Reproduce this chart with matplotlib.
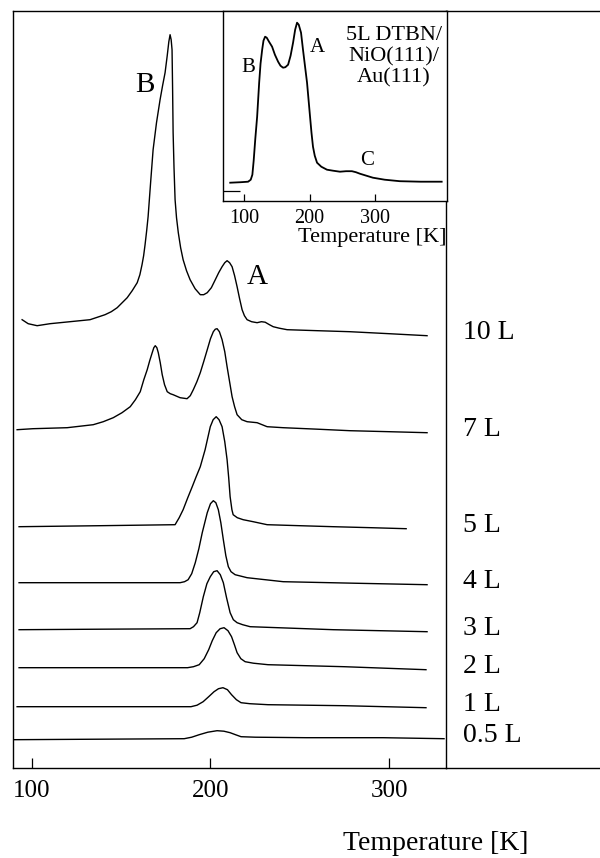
import matplotlib
matplotlib.use("Agg")
import matplotlib.pyplot as plt
import matplotlib.transforms as mtransforms

plt.rcParams['font.family'] = ['Liberation Serif', 'DejaVu Serif']

# ---- TPD traces, main panel (temperature in K, signal in arbitrary units incl. offset) ----
T_10L = [94.6, 98.0, 103.0, 110.2, 121.4, 132.6, 141.0, 144.5, 147.8, 150.6, 153.4, 156.2, 159.0,
         160.5, 161.7, 162.6, 163.4, 164.3, 165.1, 166.5, 167.9, 169.8, 171.8, 173.2, 174.6, 175.8,
         176.7, 177.4, 178.0, 178.5, 178.8, 179.1, 179.6, 180.2, 181.0, 182.0, 183.3, 184.7, 186.6,
         188.6, 191.4, 194.3, 196.2, 198.2, 200.5, 202.7, 204.6, 206.5, 208.0, 209.3, 210.7, 212.1,
         213.5, 214.9, 216.3, 217.7, 219.0, 220.5, 223.0, 226.1, 228.5, 230.6, 233.0, 235.1, 238.5,
         242.9, 260.0, 278.0, 300.0, 321.2]
y_10L = [448, 444, 442, 444, 446, 448, 453, 456, 460, 465, 470, 477, 485,
         493, 503, 512, 523, 537, 551, 585, 618, 645, 668, 682, 695, 712,
         726, 733, 728, 718, 680, 635, 600, 568, 550, 535, 520, 508, 497,
         488, 479, 473, 473, 475, 480, 488, 495, 501, 505, 507, 505, 501,
         492, 481, 469, 458, 452, 448, 446, 445, 446, 445.5, 443, 441, 439.5,
         438, 437, 436, 434, 432]

T_7L = [91.8, 100.7, 119.8, 134.4, 140.0, 145.6, 150.5, 155.1, 158.0, 160.7, 162.7, 164.6, 166.0,
        167.4, 168.3, 169.1, 170.0, 170.8, 171.9, 173.0, 174.3, 175.8, 177.5, 179.1, 183.0, 186.9,
        188.7, 190.4, 192.4, 194.3, 196.2, 198.2, 200.0, 201.6, 202.7, 203.7, 205.0, 206.5, 208.0,
        209.3, 210.7, 212.1, 213.5, 214.9, 217.5, 220.5, 226.1, 231.7, 240.7, 260.0, 278.0, 300.0,
        321.2]
y_7L = [338, 339, 340, 343, 346, 350, 355, 361, 368, 376, 388, 398, 407,
        415, 420, 422, 420, 415, 405, 393, 383, 376, 374, 373, 370, 369,
        372, 378, 386, 395, 406, 418, 429, 436, 438.5, 439, 436, 428, 416,
        401, 386, 371, 361, 353, 348, 346, 345, 341, 340, 338.5, 337, 336,
        335]

T_5L = [92.9, 138.3, 180.2, 182.5, 184.7, 187.3, 189.8, 192.0, 194.3, 197.0, 199.9, 201.5, 203.2,
        204.8, 206.5, 208.0, 209.3, 210.2, 211.0, 212.0, 212.7, 215.0, 218.3, 223.9, 231.7, 250.0,
        268.7, 290.0, 309.5]
y_5L = [241, 242, 243, 250, 258, 270, 281, 291, 301, 318, 341, 348, 351,
        348, 341, 326, 308, 290, 271, 258, 253, 250, 248, 246, 243, 242,
        241, 240, 239]

T_4L = [92.9, 138.3, 183.0, 185.5, 187.5, 189.5, 191.5, 193.5, 195.4, 198.2, 200.0, 201.6, 203.0,
        204.4, 205.8, 207.2, 208.6, 210.0, 211.5, 213.8, 220.5, 240.7, 280.0, 321.2]
y_4L = [185, 185, 185, 186, 188, 194, 205, 219, 235, 255, 264, 267, 265,
        258, 245, 228, 212, 201, 196, 193, 190, 186, 184.5, 183]

T_3L = [92.9, 138.3, 188.6, 190.5, 192.5, 194.0, 196.0, 198.0, 199.9, 201.8, 203.7, 205.5, 207.2,
        209.0, 211.0, 212.8, 214.9, 218.0, 222.2, 268.7, 321.2]
y_3L = [138, 138.5, 139, 141, 145, 155, 171, 184, 191, 196, 197, 193, 185,
        170, 155, 148, 145, 143, 141, 138, 136]

T_2L = [92.9, 187.2, 190.5, 193.7, 196.5, 199.0, 201.0, 203.2, 205.4, 207.6, 209.8, 211.8, 213.4,
        214.9, 217.0, 219.4, 224.0, 232.2, 274.8, 320.6]
y_2L = [100, 100, 101, 103, 109, 118, 127, 135, 139, 140, 137, 131, 123,
        115, 109, 106, 104.5, 103, 101, 98]

T_1L = [91.8, 189.1, 192.5, 195.9, 199.0, 202.0, 204.5, 207.0, 209.5, 211.8, 214.5, 217.1, 222.0,
        232.2, 274.8, 320.6]
y_1L = [61, 61, 62.5, 66, 71, 76, 79, 80, 78, 73, 68, 65, 64,
        63, 62, 60]

T_05L = [89.5, 185.3, 189.5, 193.7, 198.5, 203.7, 207.5, 211.0, 214.0, 217.1, 225.0, 253.5, 296.6,
         330.7]
y_05L = [28, 29, 30.5, 33, 35.5, 37, 36.5, 35, 33, 31, 30.5, 30, 30,
         29]

traces = [(T_10L, y_10L), (T_7L, y_7L), (T_5L, y_5L), (T_4L, y_4L),
          (T_3L, y_3L), (T_2L, y_2L), (T_1L, y_1L), (T_05L, y_05L)]
exposures = ['10 L', '7 L', '5 L', '4 L', '3 L', '2 L', '1 L', '0.5 L']
main_ticks = [100, 200, 300]

# ---- inset: 5L DTBN/NiO(111)/Au(111) ----
T_inset = [78.6, 95.0, 106.0, 110.0, 112.5, 114.5, 117.0, 119.8, 122.9, 125.0, 127.5, 129.5, 132.0,
           134.5, 138.0, 142.7, 147.0, 151.9, 155.5, 159.5, 163.0, 167.2, 171.0, 174.8, 178.0, 180.9,
           183.5, 187.0, 190.0, 193.0, 196.2, 198.5, 200.8, 203.0, 205.3, 208.0, 211.5, 218.0, 226.7,
           236.0, 246.6, 256.0, 264.9, 271.0, 277.1, 287.0, 297.0, 315.0, 338.2, 370.0, 402.3]
y_inset = [18, 18.5, 19, 21, 26, 40, 62, 84, 118, 137, 151, 160, 164,
           163, 159, 154, 146, 139, 135, 133, 133.5, 136, 145, 158, 171, 178,
           176, 168, 151, 135, 118, 101, 84, 68, 54, 45, 38, 34, 31,
           30, 29, 29.5, 29.5, 28.5, 27, 25, 23, 21, 19.5, 19, 19]
inset_ticks = [100, 200, 300]

W, H = 600, 858
fig = plt.figure(figsize=(6, 8.58), dpi=100)

# main axes
ax = fig.add_axes([13 / W, (H - 767.7) / H, (446 - 13) / W, (767.7 - 11) / H])
for T, y in traces:
    ax.plot(T, y, color='black', lw=1.0)
ax.set_xlim(89.5, 331.8)
ax.set_ylim(0, 756.7)
ax.set_xticks(main_ticks)
ax.set_yticks([])
ax.tick_params(axis='x', direction='in', length=7, width=0.9, pad=9, labelsize=18)
for s in ax.spines.values():
    s.set_linewidth(1.0)

# frame lines continue to the right edge
ax.plot([1, 1.36], [0, 0], transform=ax.transAxes, color='black', lw=1.0, clip_on=False)
ax.plot([1, 1.36], [1, 1], transform=ax.transAxes, color='black', lw=1.0, clip_on=False)

# exposure labels next to the trace ends
trans = mtransforms.blended_transform_factory(ax.transAxes, ax.transData)
for (T, y), lab in zip(traces, exposures):
    ax.text(1.039, y[-1] + 3, lab, transform=trans, ha='left', va='center',
            fontsize=20, clip_on=False)

ax.text(163.4, 683, 'B', fontsize=21, ha='center', va='center')
ax.text(226.1, 491, 'A', fontsize=21, ha='center', va='center')

fig.text(436 / W, 1 - 843 / H, 'Temperature [K]', fontsize=20, ha='center', va='center')

# inset axes
ax2 = fig.add_axes([223.3 / W, (H - 200.7) / H, (446.7 - 223.3) / W, (200.7 - 11) / H])
ax2.plot(T_inset, y_inset, color='black', lw=1.3)
ax2.set_xlim(68, 410)
ax2.set_ylim(0, 189.7)
ax2.set_xticks(inset_ticks)
ax2.set_yticks([10])
ax2.set_yticklabels([])
ax2.tick_params(axis='x', direction='in', length=5, width=0.9, pad=6, labelsize=14.5)
ax2.tick_params(axis='y', direction='in', length=12, width=0.9)
for s in ax2.spines.values():
    s.set_linewidth(1.0)
ax2.text(106, 133, 'B', fontsize=15, ha='center', va='center')
ax2.text(211.5, 153, 'A', fontsize=15, ha='center', va='center')
ax2.text(287.8, 40, 'C', fontsize=15, ha='center', va='center')
ax2.text((372 - 223.3) / 223.4, (200.7 - 237) / 189.7, 'Temperature [K]', fontsize=16,
         ha='center', va='center', transform=ax2.transAxes)
ax2.text((394 - 223.3) / 223.4, (200.7 - 57) / 189.7, '5L DTBN/\nNiO(111)/\nAu(111)',
         fontsize=16, ha='center', va='center', multialignment='center', linespacing=1.15,
         transform=ax2.transAxes)

fig.savefig('out.png', dpi=100)
